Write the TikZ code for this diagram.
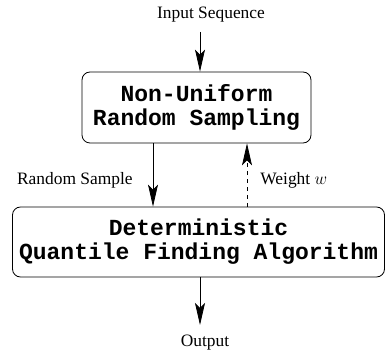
\documentclass[tikz,border=0pt]{standalone}
\usepackage{fontspec}
\setmainfont{Liberation Serif}
\setmonofont{Liberation Mono}
\usetikzlibrary{positioning}
\usetikzlibrary{arrows.meta}
\tikzset{>={Stealth[length=22pt,width=10pt,inset=5pt]}}

\begin{document}
\begin{tikzpicture}[x=1pt, y=-1pt, line width=0.8pt, stagebox/.style={draw=black, rounded corners=8pt, inner sep=0pt, align=center, font=\fontsize{23}{24}\selectfont\ttfamily\bfseries}, label/.style={draw=none, inner sep=0pt, font=\fontsize{17.4}{20}\selectfont}]
    \useasboundingbox (0,0) rectangle (385,352);
    
    %Nodes
    \node[stagebox, minimum width=229pt, minimum height=71pt](sampling) at (196.5,107.5){Non-Uniform\\Random Sampling};
    \node[stagebox, minimum width=372pt, minimum height=70pt](quantile) at (198.5,242){Deterministic\\Quantile Finding Algorithm};
    
    \node[label](input) at (211,15){Input Sequence};
    \node[label](output) at (205,343){Output};
    \node[label, anchor=east](sample_text) at (133,180){Random Sample};
    \node[label, anchor=west](weight_text) at (260,180){Weight $w$};
    
    \coordinate (input_end) at (200,32);
    \coordinate (output_end) at (200,325);
    \coordinate (sample_x) at (153,0);
    \coordinate (weight_x) at (247,0);
    
    %Lines
    \draw[->] (input_end) -- (input_end |- sampling.north);
    \draw[->] (sample_x |- sampling.south) -- (sample_x |- quantile.north);
    \draw[->, dash pattern=on 4pt off 4pt] (weight_x |- quantile.north) -- (weight_x |- sampling.south);
    \draw[->] (output_end |- quantile.south) -- (output_end);
    
\end{tikzpicture}
\end{document}
